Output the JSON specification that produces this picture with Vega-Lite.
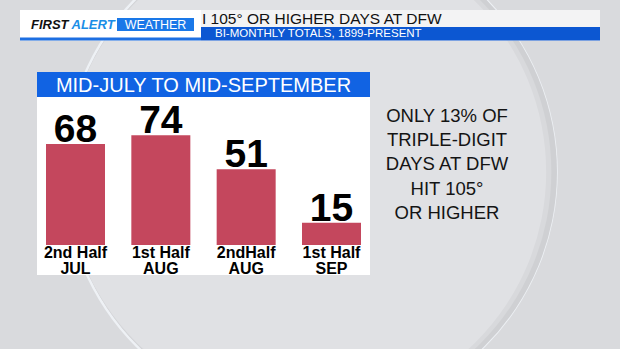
{
  "$schema": "https://vega.github.io/schema/vega-lite/v6.json",
  "width": 620,
  "height": 349,
  "padding": 0,
  "autosize": {"type": "none"},
  "background": "#d9dadd",
  "config": {
    "view": {"stroke": null},
    "axis": {"disable": true},
    "legend": {"disable": true},
    "text": {"font": "Liberation Sans"}
  },
  "resolve": {"scale": {"x": "independent", "y": "independent"}},
  "layer": [
    {
      "data": {"values": [{}]},
      "layer": [
        {
          "mark": {"type": "circle", "fill": "#eef1f5", "opacity": 1},
          "encoding": {
            "x": {"datum": 310.5, "type": "quantitative", "scale": {"domain": [0, 620], "nice": false, "zero": false}},
            "y": {"datum": 172, "type": "quantitative", "scale": {"domain": [349, 0], "nice": false, "zero": false}},
            "size": {"value": 244545}
          }
        },
        {
          "mark": {"type": "circle", "fill": "#cfd0d3", "opacity": 1},
          "encoding": {
            "x": {"datum": 311.5, "type": "quantitative", "scale": {"domain": [0, 620], "nice": false, "zero": false}},
            "y": {"datum": 172, "type": "quantitative", "scale": {"domain": [349, 0], "nice": false, "zero": false}},
            "size": {"value": 241051}
          }
        },
        {
          "mark": {"type": "circle", "fill": "#d8d9dc", "opacity": 1},
          "encoding": {
            "x": {"datum": 308.5, "type": "quantitative", "scale": {"domain": [0, 620], "nice": false, "zero": false}},
            "y": {"datum": 172, "type": "quantitative", "scale": {"domain": [349, 0], "nice": false, "zero": false}},
            "size": {"value": 235882}
          }
        },
        {
          "mark": {"type": "circle", "fill": "#e0e1e4", "opacity": 1},
          "encoding": {
            "x": {"datum": 306, "type": "quantitative", "scale": {"domain": [0, 620], "nice": false, "zero": false}},
            "y": {"datum": 172, "type": "quantitative", "scale": {"domain": [349, 0], "nice": false, "zero": false}},
            "size": {"value": 230722}
          }
        },
        {
          "mark": {"type": "rect", "fill": "#ffffff"},
          "encoding": {
            "x": {"datum": 20, "type": "quantitative", "scale": {"domain": [0, 620], "nice": false, "zero": false}},
            "x2": {"datum": 600},
            "y": {"datum": 10, "type": "quantitative", "scale": {"domain": [349, 0], "nice": false, "zero": false}},
            "y2": {"datum": 40.5}
          }
        },
        {
          "mark": {"type": "rect", "fill": "#f3f3f4"},
          "encoding": {
            "x": {"datum": 201, "type": "quantitative", "scale": {"domain": [0, 620], "nice": false, "zero": false}},
            "x2": {"datum": 600},
            "y": {"datum": 10, "type": "quantitative", "scale": {"domain": [349, 0], "nice": false, "zero": false}},
            "y2": {"datum": 27}
          }
        },
        {
          "mark": {"type": "rect", "fill": "#0c57d2"},
          "encoding": {
            "x": {"datum": 201, "type": "quantitative", "scale": {"domain": [0, 620], "nice": false, "zero": false}},
            "x2": {"datum": 600},
            "y": {"datum": 27, "type": "quantitative", "scale": {"domain": [349, 0], "nice": false, "zero": false}},
            "y2": {"datum": 40.5}
          }
        },
        {
          "mark": {"type": "rect", "fill": "#1d6fe2"},
          "encoding": {
            "x": {"datum": 20, "type": "quantitative", "scale": {"domain": [0, 620], "nice": false, "zero": false}},
            "x2": {"datum": 201},
            "y": {"datum": 37.5, "type": "quantitative", "scale": {"domain": [349, 0], "nice": false, "zero": false}},
            "y2": {"datum": 40.5}
          }
        },
        {
          "mark": {"type": "rect", "fill": "#1a78e8"},
          "encoding": {
            "x": {"datum": 117, "type": "quantitative", "scale": {"domain": [0, 620], "nice": false, "zero": false}},
            "x2": {"datum": 194},
            "y": {"datum": 18, "type": "quantitative", "scale": {"domain": [349, 0], "nice": false, "zero": false}},
            "y2": {"datum": 31}
          }
        },
        {
          "mark": {"type": "text", "text": "FIRST", "align": "left", "baseline": "alphabetic", "fontSize": 13, "fontWeight": "bold", "fontStyle": "italic", "fill": "#111111"},
          "encoding": {
            "x": {"datum": 31, "type": "quantitative", "scale": {"domain": [0, 620], "nice": false, "zero": false}},
            "y": {"datum": 28.5, "type": "quantitative", "scale": {"domain": [349, 0], "nice": false, "zero": false}}
          }
        },
        {
          "mark": {"type": "text", "text": "ALERT", "align": "left", "baseline": "alphabetic", "fontSize": 13, "fontWeight": "bold", "fontStyle": "italic", "fill": "#1b8ee6"},
          "encoding": {
            "x": {"datum": 71.5, "type": "quantitative", "scale": {"domain": [0, 620], "nice": false, "zero": false}},
            "y": {"datum": 28.5, "type": "quantitative", "scale": {"domain": [349, 0], "nice": false, "zero": false}}
          }
        },
        {
          "mark": {"type": "text", "text": "WEATHER", "align": "center", "baseline": "alphabetic", "fontSize": 12.5, "fill": "#ffffff"},
          "encoding": {
            "x": {"datum": 155.5, "type": "quantitative", "scale": {"domain": [0, 620], "nice": false, "zero": false}},
            "y": {"datum": 28.5, "type": "quantitative", "scale": {"domain": [349, 0], "nice": false, "zero": false}}
          }
        },
        {
          "mark": {"type": "text", "text": "I  105° OR HIGHER DAYS AT DFW", "align": "left", "baseline": "alphabetic", "fontSize": 15.5, "fill": "#111111"},
          "encoding": {
            "x": {"datum": 202, "type": "quantitative", "scale": {"domain": [0, 620], "nice": false, "zero": false}},
            "y": {"datum": 24, "type": "quantitative", "scale": {"domain": [349, 0], "nice": false, "zero": false}}
          }
        },
        {
          "mark": {"type": "text", "text": "BI-MONTHLY TOTALS, 1899-PRESENT", "align": "left", "baseline": "alphabetic", "fontSize": 11.5, "fill": "#ffffff"},
          "encoding": {
            "x": {"datum": 215, "type": "quantitative", "scale": {"domain": [0, 620], "nice": false, "zero": false}},
            "y": {"datum": 37.3, "type": "quantitative", "scale": {"domain": [349, 0], "nice": false, "zero": false}}
          }
        },
        {
          "mark": {"type": "rect", "fill": "#ffffff"},
          "encoding": {
            "x": {"datum": 37, "type": "quantitative", "scale": {"domain": [0, 620], "nice": false, "zero": false}},
            "x2": {"datum": 370},
            "y": {"datum": 72, "type": "quantitative", "scale": {"domain": [349, 0], "nice": false, "zero": false}},
            "y2": {"datum": 275}
          }
        },
        {
          "mark": {"type": "rect", "fill": "#1163e3"},
          "encoding": {
            "x": {"datum": 37, "type": "quantitative", "scale": {"domain": [0, 620], "nice": false, "zero": false}},
            "x2": {"datum": 370},
            "y": {"datum": 72, "type": "quantitative", "scale": {"domain": [349, 0], "nice": false, "zero": false}},
            "y2": {"datum": 97}
          }
        },
        {
          "mark": {"type": "text", "text": "MID-JULY TO MID-SEPTEMBER", "align": "center", "baseline": "alphabetic", "fontSize": 20, "fill": "#ffffff"},
          "encoding": {
            "x": {"datum": 203.5, "type": "quantitative", "scale": {"domain": [0, 620], "nice": false, "zero": false}},
            "y": {"datum": 91.7, "type": "quantitative", "scale": {"domain": [349, 0], "nice": false, "zero": false}}
          }
        },
        {
          "mark": {"type": "text", "text": ["ONLY 13% OF", "TRIPLE-DIGIT", "DAYS  AT DFW", "HIT 105°", "OR HIGHER"], "align": "center", "baseline": "alphabetic", "fontSize": 18.5, "lineHeight": 24.3, "fill": "#141414"},
          "encoding": {
            "x": {"datum": 447, "type": "quantitative", "scale": {"domain": [0, 620], "nice": false, "zero": false}},
            "y": {"datum": 121.7, "type": "quantitative", "scale": {"domain": [349, 0], "nice": false, "zero": false}}
          }
        }
      ]
    },
    {
      "data": {
        "values": [
          {"period": "2nd Half JUL", "label": ["2nd Half", "JUL"], "days": 68},
          {"period": "1st Half AUG", "label": ["1st Half", "AUG"], "days": 74},
          {"period": "2nd Half AUG", "label": ["2ndHalf", "AUG"], "days": 51},
          {"period": "1st Half SEP", "label": ["1st Half", "SEP"], "days": 15}
        ]
      },
      "encoding": {
        "x": {
          "field": "period",
          "type": "nominal",
          "sort": null,
          "scale": {"range": [46, 361], "paddingInner": 0.3086, "paddingOuter": 0},
          "axis": null
        }
      },
      "layer": [
        {
          "mark": {"type": "bar", "color": "#c4475d"},
          "encoding": {
            "y": {"field": "days", "type": "quantitative", "scale": {"domain": [-70, 165], "nice": false, "zero": false}, "axis": null}
          }
        },
        {
          "mark": {"type": "text", "baseline": "alphabetic", "dy": -2, "fontSize": 39, "fontWeight": "bold", "fill": "#000000"},
          "encoding": {
            "y": {"field": "days", "type": "quantitative"},
            "text": {"field": "days", "type": "quantitative"}
          }
        },
        {
          "mark": {"type": "text", "baseline": "alphabetic", "dy": 12.5, "lineHeight": 16.5, "fontSize": 16, "fontWeight": "bold", "fill": "#000000"},
          "encoding": {
            "y": {"datum": 0, "type": "quantitative"},
            "text": {"field": "label"}
          }
        }
      ]
    }
  ]
}
